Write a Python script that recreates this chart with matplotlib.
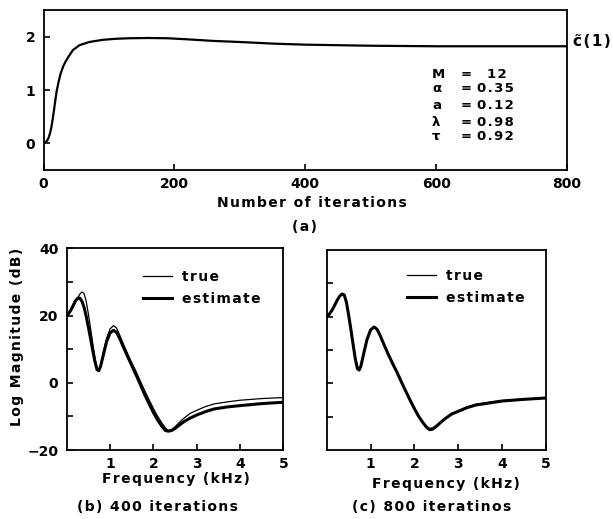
import matplotlib
matplotlib.use("Agg")
import matplotlib.pyplot as plt
from matplotlib.lines import Line2D

# (a) adaptation of c~(1) versus iteration count
ITER = [0, 2, 4, 6, 8, 10, 12, 14, 16, 18, 20, 23, 26, 30, 34, 38, 45, 55, 70, 90, 110,
        130, 160, 190, 220, 260, 300, 350, 400, 500, 600, 700, 800]
C1 = [0, 0.01, 0.03, 0.06, 0.11, 0.19, 0.3, 0.45, 0.62, 0.8, 0.97, 1.15, 1.3, 1.44, 1.54,
      1.62, 1.75, 1.84, 1.9, 1.94, 1.96, 1.97, 1.975, 1.97, 1.95, 1.92, 1.9, 1.87, 1.85,
      1.83, 1.82, 1.82, 1.82]

PARAM_NAMES = ["M", "\u03b1", "a", "\u03bb", "\u03c4"]
PARAM_VALUES = ["12", "0.35", "0.12", "0.98", "0.92"]

# (b), (c) log magnitude spectra (dB) over frequency (kHz)
FREQ = [0, 0.05, 0.1, 0.15, 0.2, 0.25, 0.3, 0.35, 0.4, 0.45, 0.5, 0.55, 0.6, 0.65, 0.7,
        0.74, 0.78, 0.85, 0.92, 1.0, 1.08, 1.15, 1.22, 1.3, 1.4, 1.5, 1.6, 1.7, 1.8, 1.9,
        2.0, 2.1, 2.2, 2.28, 2.35, 2.42, 2.5, 2.6, 2.7, 2.85, 3.0, 3.2, 3.4, 3.7, 4.0,
        4.5, 5.0]
TRUE = [20, 20.6, 21.5, 22.6, 23.9, 25.2, 26.3, 27.0, 26.6, 24.3, 20.5, 16.3, 11.8, 7.5,
        4.3, 3.9, 5.2, 9.3, 13.2, 16.0, 17.0, 16.3, 14.3, 11.8, 8.8, 6.0, 3.4, 0.5, -2.3,
        -5.0, -7.6, -10.0, -12.0, -13.5, -14.2, -14.0, -13.1, -11.8, -10.6, -9.1, -8.2,
        -7.1, -6.3, -5.7, -5.2, -4.7, -4.4]
EST_400 = [20, 20.7, 21.7, 23.0, 24.3, 25.1, 25.2, 24.3, 22.5, 19.8, 16.6, 13.2, 9.7, 6.4,
           3.9, 3.6, 4.8, 8.5, 12.2, 14.8, 15.6, 15.0, 13.3, 10.9, 8.0, 5.2, 2.4, -0.5,
           -3.5, -6.2, -8.8, -11.1, -13.0, -14.2, -14.4, -14.2, -13.6, -12.6, -11.6,
           -10.5, -9.6, -8.6, -7.8, -7.2, -6.8, -6.2, -5.8]
EST_800 = [20, 20.6, 21.5, 22.6, 23.9, 25.2, 26.2, 26.8, 26.5, 24.3, 20.5, 16.3, 11.8, 7.5,
           4.4, 4.0, 5.2, 9.3, 13.2, 16.0, 16.9, 16.2, 14.3, 11.8, 8.8, 6.0, 3.4, 0.5,
           -2.3, -5.0, -7.6, -10.0, -11.9, -13.2, -13.8, -13.6, -12.9, -11.7, -10.6,
           -9.2, -8.4, -7.3, -6.5, -5.9, -5.3, -4.8, -4.4]

W, H = 613, 519
HAIR = "\u200a"


def spaced(s):
    # wide letter tracking like the typewriter-ish original
    return HAIR.join(s)


def px(x, y):
    return x / W, 1 - y / H


def style_ax(ax, pad_x=4, pad_y=5):
    for sp in ax.spines.values():
        sp.set_linewidth(1.3)
    ax.tick_params(direction="in", length=4, width=1.2, labelsize=10)
    ax.tick_params(axis="x", pad=pad_x)
    ax.tick_params(axis="y", pad=pad_y)
    ax.tick_params(which="minor", direction="in", length=4, width=1.2)


def spectrum(ax, est, show_ylabels, legend_anchor):
    ax.plot(FREQ, TRUE, color="black", lw=0.9)
    ax.plot(FREQ, est, color="black", lw=2.2)
    ax.set_xlim(0, 5)
    ax.set_ylim(-20, 40)
    ax.set_xticks([1, 2, 3, 4, 5])
    ax.set_yticks([-20, 0, 20, 40])
    ax.set_yticks([-10, 10, 30], minor=True)
    style_ax(ax, pad_x=5, pad_y=6)
    if not show_ylabels:
        ax.set_yticks([-10, 0, 10, 20, 30])
        ax.set_yticklabels([])
        ax.set_yticks([], minor=True)
        ax.set_ylim(-20, 40)
    handles = [Line2D([], [], color="black", lw=0.9), Line2D([], [], color="black", lw=2.2)]
    ax.legend(handles, [spaced("true"), spaced("estimate")], loc="upper left",
              bbox_to_anchor=legend_anchor, frameon=False, fontsize=10,
              handlelength=2.1, handletextpad=0.7, labelspacing=0.55,
              borderpad=0, borderaxespad=0)


def main():
    plt.rcParams["font.family"] = "DejaVu Sans"
    plt.rcParams["font.weight"] = "bold"

    fig = plt.figure(figsize=(W / 100, H / 100), dpi=100)

    # (a)
    ax_a = fig.add_axes([43.5 / W, 1 - 170 / H, 523.5 / W, 160 / H])
    ax_a.plot(ITER, C1, color="black", lw=1.6)
    ax_a.set_xlim(0, 800)
    ax_a.set_ylim(-0.5, 2.5)
    ax_a.set_xticks([0, 200, 400, 600, 800])
    ax_a.set_yticks([0, 1, 2])
    style_ax(ax_a, pad_x=5, pad_y=6)

    rows_y = [75, 89, 105, 122, 137]
    for name, val, y in zip(PARAM_NAMES, PARAM_VALUES, rows_y):
        fig.text(*px(432, y), name, fontsize=9.5, ha="left", va="center")
        fig.text(*px(466, y), "=", fontsize=9.5, ha="center", va="center")
        vx = 487 if val == "12" else 477
        fig.text(*px(vx, y), spaced(val), fontsize=9.5, ha="left", va="center")

    # c with a tilde on top, as a single text
    fig.text(*px(573, 41), "c\u0303" + HAIR + spaced("(1)"), fontsize=11,
             ha="left", va="center")

    fig.text(*px(312, 203), spaced("Number of iterations"), fontsize=10, ha="center", va="center")
    fig.text(*px(304, 227), spaced("(a)"), fontsize=10, ha="center", va="center")

    # (b)
    ax_b = fig.add_axes([66.7 / W, 1 - 450 / H, 216.6 / W, 201.7 / H])
    spectrum(ax_b, EST_400, True, (0.352, 0.892))
    fig.text(*px(17, 337), spaced("Log Magnitude (dB)"), fontsize=10, rotation=90,
             ha="center", va="center")
    fig.text(*px(176, 479), spaced("Frequency (kHz)"), fontsize=10, ha="center", va="center")
    fig.text(*px(157, 507), spaced("(b) 400 iterations"), fontsize=10, ha="center", va="center")

    # (c)
    ax_c = fig.add_axes([326.7 / W, 1 - 450 / H, 219.3 / W, 200 / H])
    spectrum(ax_c, EST_800, False, (0.366, 0.905))
    fig.text(*px(446, 484), spaced("Frequency (kHz)"), fontsize=10, ha="center", va="center")
    fig.text(*px(432, 507), spaced("(c) 800 iteratinos"), fontsize=10, ha="center", va="center")

    fig.savefig("out.png", dpi=100)


if __name__ == "__main__":
    main()
